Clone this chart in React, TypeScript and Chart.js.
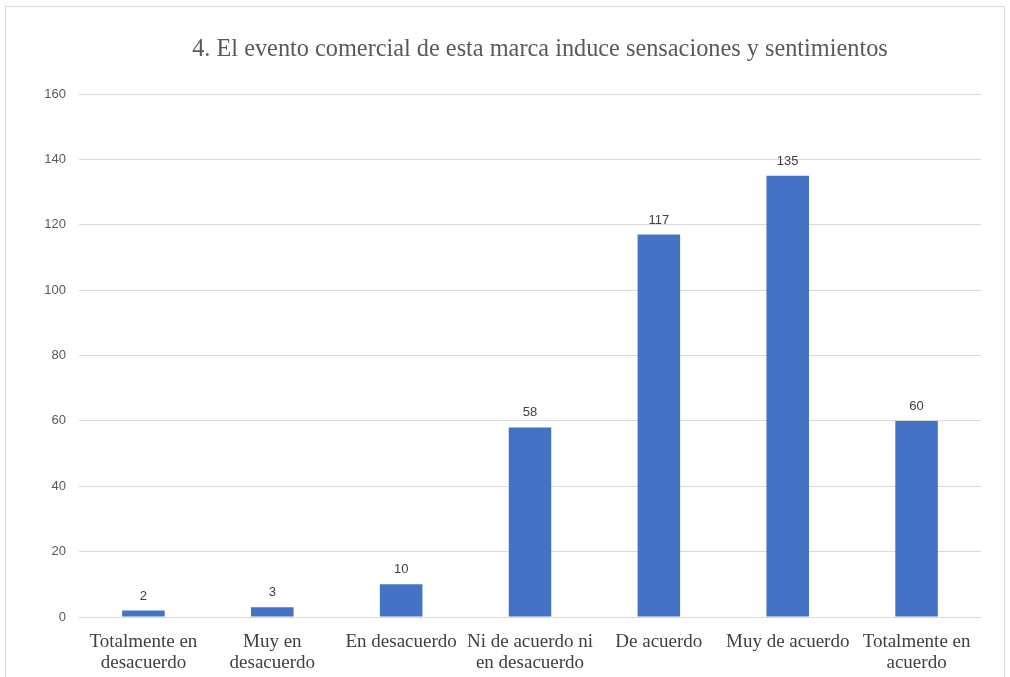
import React, { useEffect, useRef } from "react";
import { Chart, registerables } from "chart.js";

Chart.register(...registerables);

const TITLE = "4. El evento comercial de esta marca induce sensaciones y sentimientos";
const categories: string[][] = [
  ["Totalmente en", "desacuerdo"],
  ["Muy en", "desacuerdo"],
  ["En desacuerdo"],
  ["Ni de acuerdo ni", "en desacuerdo"],
  ["De acuerdo"],
  ["Muy de acuerdo"],
  ["Totalmente en", "acuerdo"],
];
const values: number[] = [2, 3, 10, 58, 117, 135, 60];
const yTicks = { min: 0, max: 160, step: 20 };

const titlePlugin = {
  id: "customTitle",
  afterDraw(chart: any) {
    const { ctx, chartArea } = chart;
    ctx.save();
    ctx.font = "24.3px 'Liberation Serif', 'Times New Roman', serif";
    ctx.fillStyle = "#595959";
    ctx.textAlign = "center";
    ctx.textBaseline = "middle";
    ctx.fillText(TITLE, (chartArea.left + chartArea.right) / 2 + 10, 43);
    ctx.restore();
  },
};

const labelPlugin = {
  id: "dataLabels",
  afterDatasetsDraw(chart: any) {
    const { ctx } = chart;
    const meta = chart.getDatasetMeta(0);
    ctx.save();
    ctx.font = "13px 'Liberation Sans', Arial, sans-serif";
    ctx.fillStyle = "#404040";
    ctx.textAlign = "center";
    ctx.textBaseline = "bottom";
    meta.data.forEach((bar: any, i: number) => {
      ctx.fillText(String(values[i]), bar.x, bar.y - 8);
    });
    ctx.restore();
  },
};

export default function App() {
  const ref = useRef<HTMLCanvasElement>(null);
  useEffect(() => {
    if (!ref.current) return;
    const chart = new Chart(ref.current, {
      type: "bar",
      data: {
        labels: categories,
        datasets: [
          {
            data: values,
            backgroundColor: "#4472C4",
            barPercentage: 0.33,
            categoryPercentage: 1,
          },
        ],
      },
      options: {
        animation: false,
        responsive: false,
        maintainAspectRatio: false,
        layout: { padding: { top: 87, right: 23, left: 0, bottom: 0 } },
        plugins: {
          legend: { display: false },
          tooltip: { enabled: false },
          title: { display: false },
        },
        scales: {
          x: {
            grid: { display: false, drawTicks: false },
            border: { display: false },
            ticks: {
              color: "#404040",
              font: { family: "'Liberation Serif', 'Times New Roman', serif", size: 19, lineHeight: 1.1 },
              padding: 15,
              maxRotation: 0,
              autoSkip: false,
            },
            afterFit(scale: any) {
              scale.height = 60;
            },
          },
          y: {
            min: yTicks.min,
            max: yTicks.max,
            grid: { color: "#d9d9d9", lineWidth: 1, drawTicks: false },
            border: { display: false },
            ticks: {
              stepSize: yTicks.step,
              color: "#595959",
              font: { family: "'Liberation Sans', Arial, sans-serif", size: 13 },
              padding: 13,
            },
            afterFit(scale: any) {
              scale.width = 73;
            },
          },
        },
      },
      plugins: [titlePlugin, labelPlugin],
    });
    return () => chart.destroy();
  }, []);

  return (
    <div
      style={{
        position: "absolute",
        left: 5,
        top: 6,
        width: 998,
        height: 700,
        border: "1px solid #d9d9d9",
        background: "#fff",
        overflow: "hidden",
      }}
    >
      <canvas ref={ref} width={998} height={670} style={{ display: "block" }} />
    </div>
  );
}
